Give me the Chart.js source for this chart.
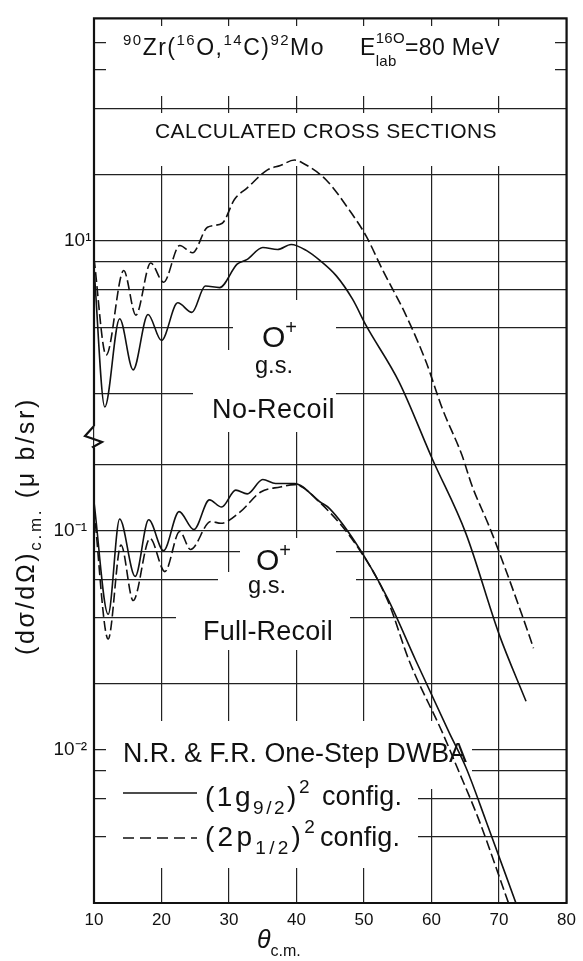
<!DOCTYPE html>
<html>
<head>
<meta charset="utf-8">
<script src="https://cdn.jsdelivr.net/npm/chart.js@4.4.0/dist/chart.umd.min.js"></script>
<style>
  html, body { margin: 0; padding: 0; background: #fff; }
</style>
</head>
<body>
<canvas id="chart-1" width="583" height="961"></canvas>
<script>
const FONT = '"Liberation Sans", Arial, sans-serif';

// theta c.m. (deg) and dsigma/dOmega (ub/sr)
// No-Recoil, (1g9/2)^2 (solid) and (2p1/2)^2 (dashed)
const thetaNR1 = [10, 11.6, 13.8, 15.8, 18.0, 20.0, 22.4, 24.5, 26.5, 28.6, 31.2, 32.7, 35.0, 37.2, 39.2, 41.5, 43.5, 45.9, 48.3, 50.3, 55.2, 60.1, 65.1, 70.0, 74.0];
const sigmaNR1 = [7.5, 1.74, 4.4, 2.57, 4.6, 3.5, 5.2, 4.7, 6.2, 6.1, 7.8, 8.2, 9.3, 9.1, 9.6, 9.0, 8.1, 6.9, 5.4, 4.1, 2.26, 1.01, 0.46, 0.16, 0.079];
const thetaNR2 = [10, 11.8, 14.4, 16.2, 18.4, 20.3, 22.7, 24.6, 26.8, 29.0, 30.8, 32.7, 35.7, 37.6, 39.7, 40.9, 44.4, 47.8, 50.3, 52.7, 56.2, 59.2, 61.6, 64.5, 66.0, 68.5, 70.0, 74.4, 75.1];
const sigmaNR2 = [8.3, 3.0, 7.3, 4.57, 7.9, 6.45, 9.5, 8.8, 11.5, 12.0, 15.4, 17.4, 21, 22, 23.3, 22.6, 18.9, 13.8, 10.5, 7.4, 4.57, 2.79, 1.71, 1.05, 0.76, 0.50, 0.38, 0.16, 0.138];

// Full-Recoil, (1g9/2)^2 (solid) and (2p1/2)^2 (dashed)
const thetaFR1 = [10, 12.1, 13.8, 16.1, 18.1, 20.3, 22.6, 24.8, 27.1, 28.9, 31.0, 32.7, 35.0, 36.9, 39.7, 43.5, 44.9, 49.3, 53.5, 57.7, 62.6, 65.1, 68.0, 72.5];
const sigmaFR1 = [0.135, 0.0415, 0.113, 0.0618, 0.112, 0.081, 0.122, 0.101, 0.138, 0.128, 0.153, 0.147, 0.171, 0.164, 0.164, 0.135, 0.126, 0.083, 0.049, 0.0254, 0.012, 0.0083, 0.0048, 0.002];
const thetaFR2 = [10, 12.1, 14.0, 15.8, 18.3, 20.5, 22.7, 24.3, 27.3, 28.8, 31.7, 34.7, 37.6, 39.7, 43.5, 49.3, 53.5, 56.7, 61.6, 63.8, 67.0, 71.4];
const sigmaFR2 = [0.125, 0.032, 0.086, 0.048, 0.092, 0.065, 0.099, 0.082, 0.11, 0.108, 0.122, 0.150, 0.158, 0.162, 0.134, 0.082, 0.048, 0.0254, 0.012, 0.0083, 0.0048, 0.002];

const xTicks = [10, 20, 30, 40, 50, 60, 70, 80];
const nrTicks = [2, 4, 6, 8, 10, 20, 40, 60, 80];
const nrTickLabels = ["", "", "", "", "10\u00b9", "", "", "", ""];
const frTicks = [0.004, 0.006, 0.008, 0.01, 0.02, 0.04, 0.06, 0.08, 0.1, 0.2];
const frTickLabels = ["", "", "", "10\u207b\u00b2", "", "", "", "", "10\u207b\u00b9", ""];

const pts = (xs, ys) => xs.map((x, i) => ({ x: x, y: ys[i] }));

// draws a run of text pieces (superscripts / subscripts) and returns the end x
function rich(ctx, x, y, parts, ls, measureOnly) {
  ctx.letterSpacing = (ls || 0) + "px";
  parts.forEach((p) => {
    ctx.font = (p.i ? "italic " : "") + p.s + "px " + FONT;
    if (!measureOnly) ctx.fillText(p.t, x, y + (p.dy || 0));
    if (!p.hold) x += ctx.measureText(p.t).width;
  });
  ctx.letterSpacing = "0px";
  return x;
}

// same, spread out with letter spacing so it spans the width w
function richFit(ctx, x, y, parts, w) {
  const w0 = rich(ctx, 0, 0, parts, 0, true);
  const n = parts.reduce((a, p) => a + (p.hold ? 0 : p.t.length), 0);
  return rich(ctx, x, y, parts, Math.max(0, (w - w0) / n));
}

function fitText(ctx, text, x, y, w, size) {
  ctx.font = size + "px " + FONT;
  const w0 = ctx.measureText(text).width;
  const ls = (w - w0) / text.length;
  if (ls >= 0) {
    rich(ctx, x, y, [{ t: text, s: size }], ls);
  } else {
    ctx.font = ((size * w) / w0).toFixed(1) + "px " + FONT;
    ctx.fillText(text, x, y);
  }
}

const decor = {
  id: "decor",
  beforeDatasetsDraw(chart) {
    const ctx = chart.ctx;
    ctx.save();
    // gaps in the graph paper where the lettering sits
    ctx.fillStyle = "#fff";
    [
      [106, 26, 555, 96],
      [95, 113, 566, 166],
      [233, 300, 336, 350],
      [193, 350, 336, 432],
      [240, 538, 336, 572],
      [218, 572, 356, 605],
      [176, 605, 350, 650],
      [106, 721, 472, 789],
      [106, 789, 418, 868],
    ].forEach((b) => ctx.fillRect(b[0], b[1], b[2] - b[0], b[3] - b[1]));

    ctx.fillStyle = "#111";
    ctx.textBaseline = "alphabetic";
    ctx.textAlign = "left";
    richFit(ctx, 123, 55, [
      { t: "90", s: 15, dy: -10 },
      { t: "Zr(", s: 23 },
      { t: "16", s: 15, dy: -10 },
      { t: "O,", s: 23 },
      { t: "14", s: 15, dy: -10 },
      { t: "C)", s: 23 },
      { t: "92", s: 15, dy: -10 },
      { t: "Mo", s: 23 },
    ], 202);
    richFit(ctx, 360, 55, [
      { t: "E", s: 23 },
      { t: "lab", s: 15, dy: 11, hold: true },
      { t: "16O", s: 15, dy: -12 },
      { t: "=80 MeV", s: 23 },
    ], 140);
    fitText(ctx, "CALCULATED CROSS SECTIONS", 155, 138, 342, 21);

    rich(ctx, 262, 347, [{ t: "O", s: 30 }, { t: "+", s: 20, dy: -13 }]);
    fitText(ctx, "g.s.", 255, 373, 38, 24);
    fitText(ctx, "No-Recoil", 212, 418, 123, 27);

    rich(ctx, 256, 570, [{ t: "O", s: 30 }, { t: "+", s: 20, dy: -13 }]);
    fitText(ctx, "g.s.", 248, 593, 38, 24);
    fitText(ctx, "Full-Recoil", 203, 640, 130, 27);

    fitText(ctx, "N.R. & F.R. One-Step DWBA", 123, 762, 344, 27);
    ctx.strokeStyle = "#111";
    ctx.lineWidth = 1.6;
    ctx.beginPath();
    ctx.moveTo(123, 793);
    ctx.lineTo(197, 793);
    ctx.stroke();
    ctx.setLineDash([11, 6]);
    ctx.beginPath();
    ctx.moveTo(123, 838);
    ctx.lineTo(197, 838);
    ctx.stroke();
    ctx.setLineDash([]);
    richFit(ctx, 205, 806, [
      { t: "(1g", s: 28 },
      { t: "9/2", s: 19, dy: 8 },
      { t: ")", s: 28 },
      { t: "2", s: 19, dy: -13 },
    ], 107);
    fitText(ctx, "config.", 322, 805, 80, 27);
    richFit(ctx, 205, 846, [
      { t: "(2p", s: 28 },
      { t: "1/2", s: 19, dy: 8 },
      { t: ")", s: 28 },
      { t: "2", s: 19, dy: -13 },
    ], 113);
    fitText(ctx, "config.", 320, 846, 80, 27);
    ctx.restore();
  },
  afterDraw(chart) {
    const ctx = chart.ctx;
    const a = chart.chartArea;
    ctx.save();
    ctx.strokeStyle = "#111";
    ctx.lineWidth = 2.2;
    ctx.beginPath();
    ctx.moveTo(a.left, 426);
    ctx.lineTo(a.left, a.top);
    ctx.lineTo(a.right, a.top);
    ctx.lineTo(a.right, a.bottom);
    ctx.lineTo(a.left, a.bottom);
    ctx.lineTo(a.left, 448);
    ctx.lineTo(a.left - 1, 447);
    ctx.lineTo(a.left + 8, 442);
    ctx.lineTo(a.left - 9, 436);
    ctx.lineTo(a.left, 426);
    ctx.stroke();

    // axis titles
    ctx.fillStyle = "#111";
    ctx.textAlign = "left";
    ctx.textBaseline = "alphabetic";
    const yParts = [
      { t: "(d\u03c3/d\u03a9)", s: 25 },
      { t: "c.m.", s: 17, dy: 7 },
      { t: " (\u03bc b/sr)", s: 25 },
    ];
    ctx.translate(34, 526);
    ctx.rotate(-Math.PI / 2);
    richFit(ctx, -129, 0, yParts, 258);
    ctx.setTransform(1, 0, 0, 1, 0, 0);
    rich(ctx, 257, 948, [
      { t: "\u03b8", s: 25, i: true },
      { t: "c.m.", s: 16, dy: 8 },
    ]);
    ctx.restore();
  },
};

const curve = {
  borderColor: "#111",
  borderWidth: 1.6,
  pointRadius: 0,
  fill: false,
  cubicInterpolationMode: "monotone",
};

new Chart(document.getElementById("chart-1"), {
  type: "line",
  data: {
    datasets: [
      Object.assign({ label: "No-Recoil (1g9/2)2", data: pts(thetaNR1, sigmaNR1), yAxisID: "yNR" }, curve),
      Object.assign({ label: "No-Recoil (2p1/2)2", data: pts(thetaNR2, sigmaNR2), yAxisID: "yNR", borderDash: [10, 4] }, curve),
      Object.assign({ label: "Full-Recoil (1g9/2)2", data: pts(thetaFR1, sigmaFR1), yAxisID: "yFR" }, curve),
      Object.assign({ label: "Full-Recoil (2p1/2)2", data: pts(thetaFR2, sigmaFR2), yAxisID: "yFR", borderDash: [10, 4] }, curve),
    ],
  },
  options: {
    responsive: false,
    animation: false,
    layout: { padding: { top: 15, right: 16, bottom: 0, left: 0 } },
    plugins: {
      legend: { display: false },
      tooltip: { enabled: false },
    },
    scales: {
      x: {
        type: "linear",
        min: 10,
        max: 80,
        afterBuildTicks: (s) => {
          s.ticks = xTicks.map((v) => ({ value: v }));
        },
        afterFit: (s) => {
          s.height = 58;
        },
        ticks: { color: "#111", padding: 7, font: { family: FONT, size: 17 } },
        grid: { color: "#222", lineWidth: 1.2, drawTicks: false },
        border: { display: false },
      },
      yFR: {
        type: "logarithmic",
        position: "left",
        weight: 1,
        min: 0.002,
        max: 21.7,
        afterBuildTicks: (s) => {
          s.ticks = frTicks.map((v) => ({ value: v }));
        },
        afterFit: (s) => {
          s.width = 94;
        },
        ticks: {
          autoSkip: false,
          color: "#111",
          padding: 7,
          font: { family: FONT, size: 19 },
          callback: (v, i) => frTickLabels[i],
        },
        grid: { color: "#222", lineWidth: 1.2, drawTicks: false },
        border: { display: false },
      },
      yNR: {
        type: "logarithmic",
        position: "left",
        weight: 0,
        min: 0.00949,
        max: 103.2,
        afterBuildTicks: (s) => {
          s.ticks = nrTicks.map((v) => ({ value: v }));
        },
        afterFit: (s) => {
          s.width = 0;
        },
        ticks: {
          autoSkip: false,
          mirror: true,
          color: "#111",
          padding: -30,
          font: { family: FONT, size: 19 },
          callback: (v, i) => nrTickLabels[i],
        },
        grid: { color: "#222", lineWidth: 1.2, drawTicks: false },
        border: { display: false },
      },
    },
  },
  plugins: [decor],
});
</script>
</body>
</html>
